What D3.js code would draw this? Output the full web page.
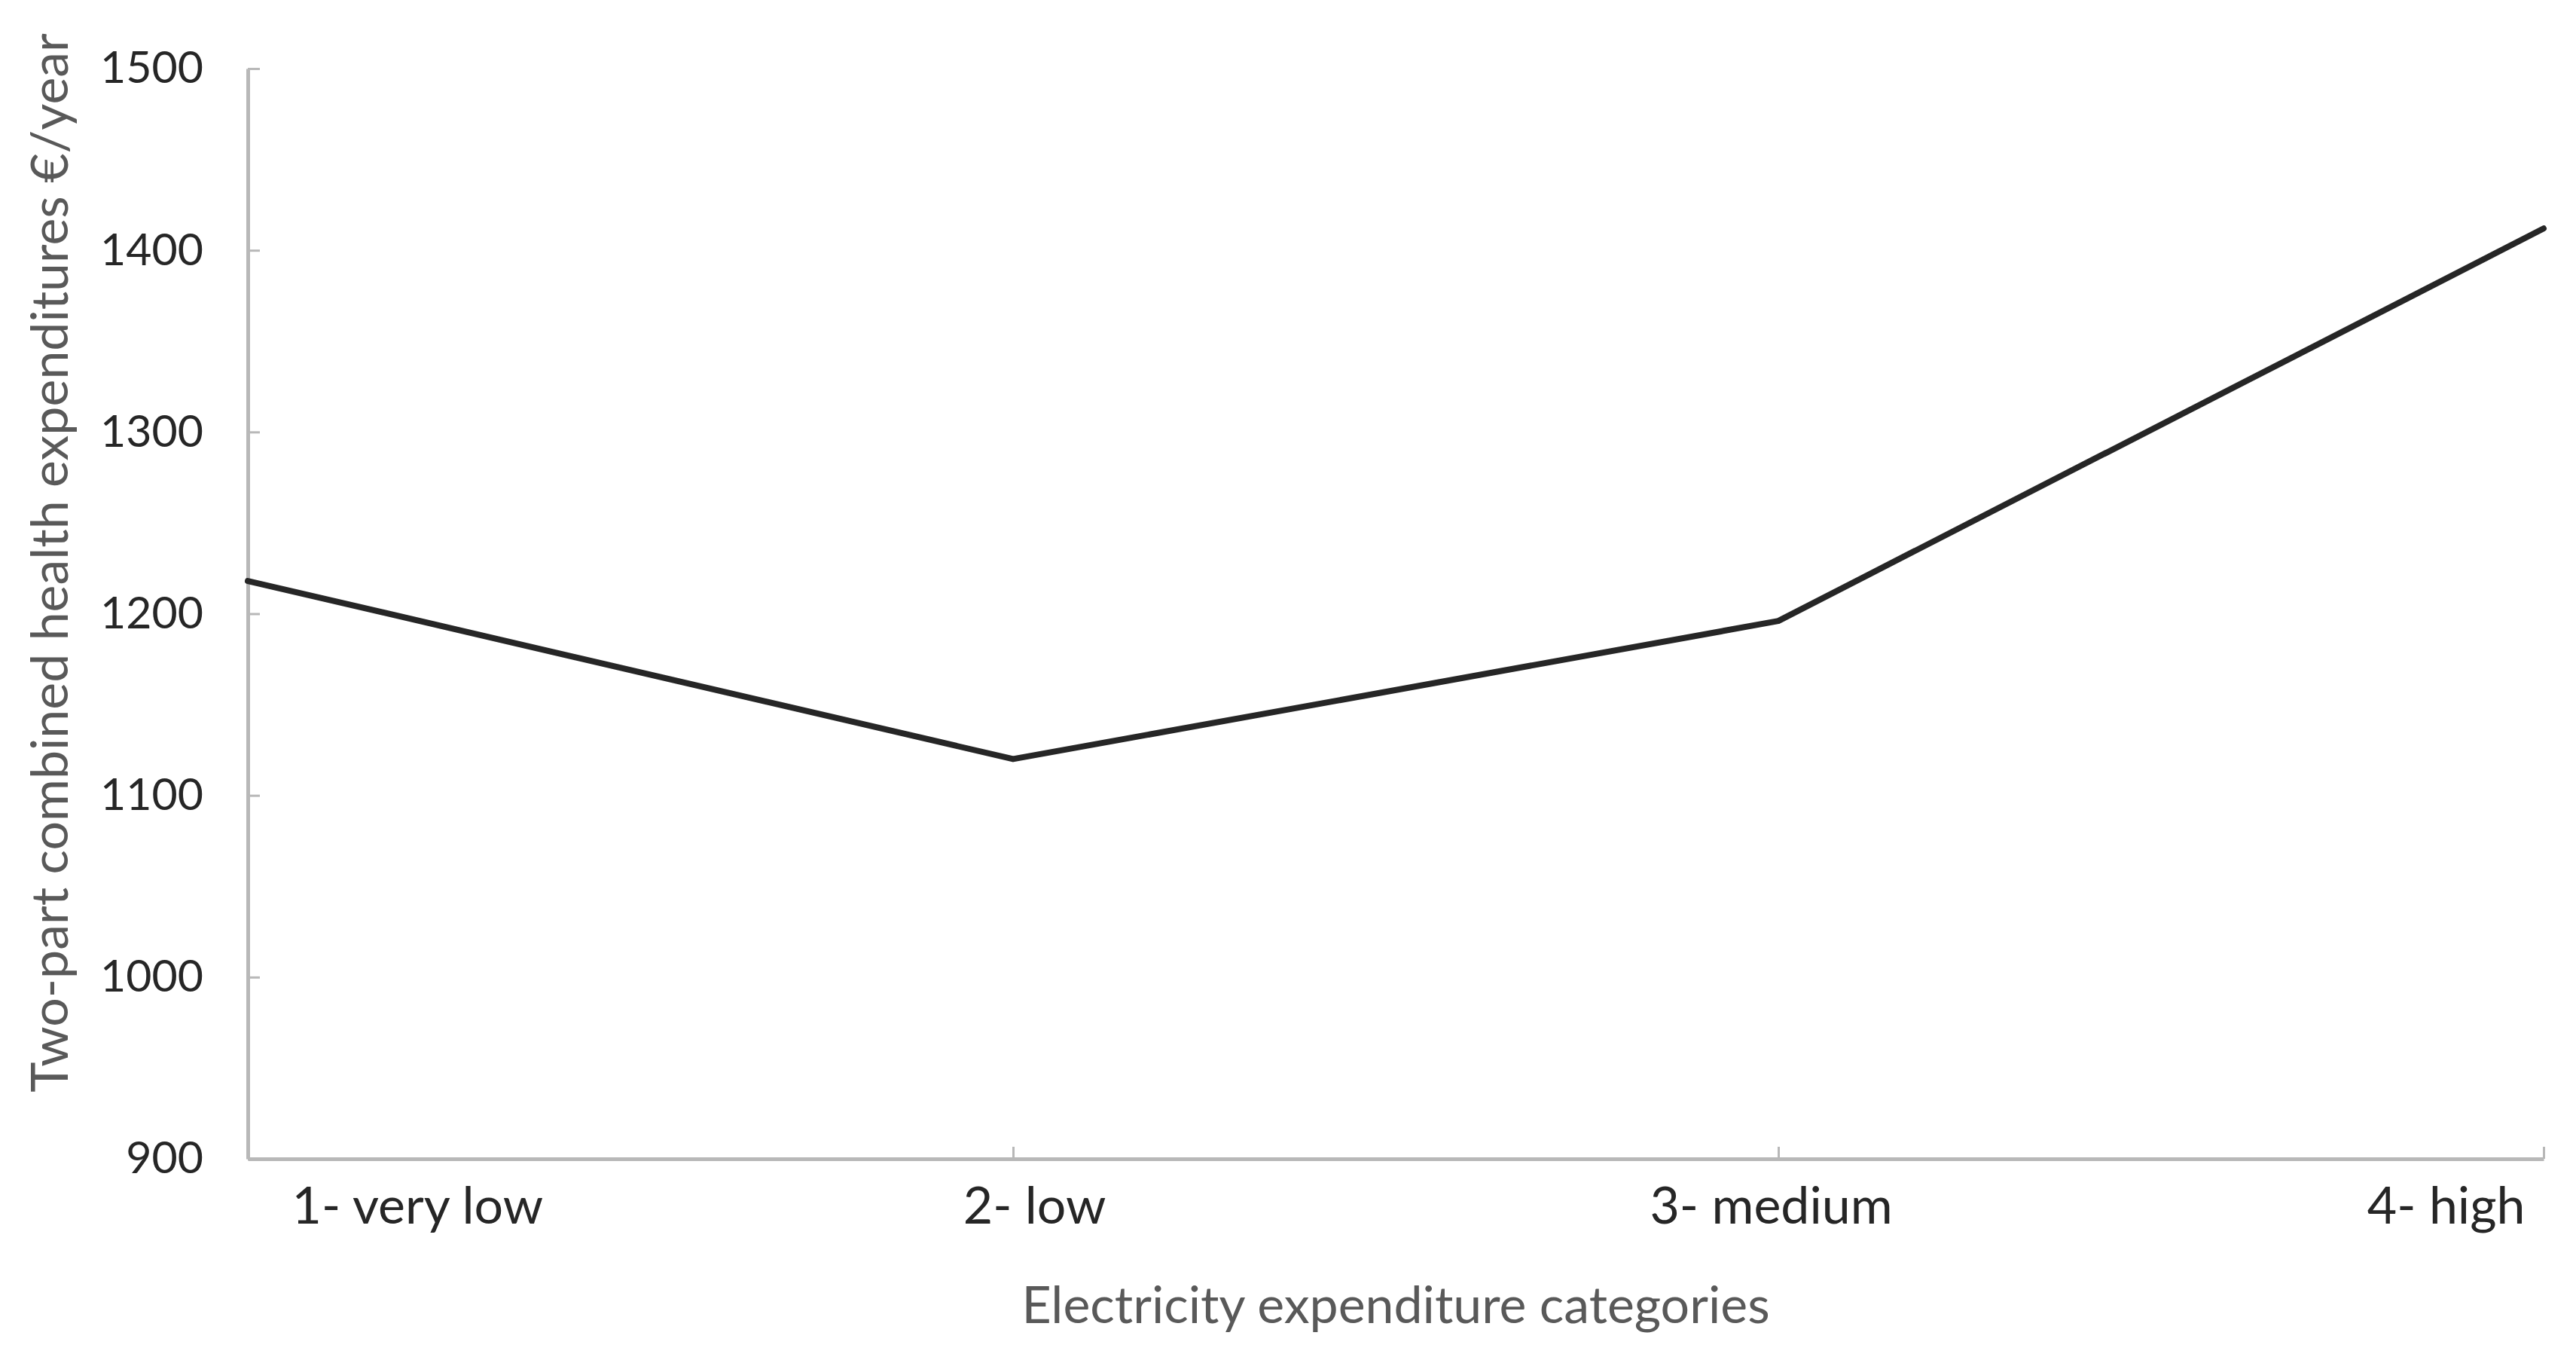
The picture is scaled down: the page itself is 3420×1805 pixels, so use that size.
<!DOCTYPE html>
<html>
<head>
<meta charset="utf-8">
<script src="https://cdn.jsdelivr.net/npm/d3@7"></script>
<style>
  html, body { margin: 0; padding: 0; background: #ffffff; }
  svg { display: block; }
  text { font-family: Lato, "Noto Sans", sans-serif; }
</style>
</head>
<body>
<svg id="chart" width="3420" height="1805"></svg>
<script>
// ---- data ----
const categories = ["1- very low", "2- low", "3- medium", "4- high"];
const values = [1218, 1120, 1196, 1412];
const yTicks = [900, 1000, 1100, 1200, 1300, 1400, 1500];
const yTitle = "Two-part combined health expenditures \u20AC/year";
const xTitle = "Electricity expenditure categories";

// ---- layout ----
const W = 3420, H = 1805;
const plot = { left: 329, right: 3377, top: 91, bottom: 1538 };

const svg = d3.select("#chart");
svg.append("rect").attr("width", W).attr("height", H).attr("fill", "#ffffff");

const x = d3.scalePoint().domain(categories).range([plot.left, plot.right]);
const y = d3.scaleLinear().domain([900, 1500]).range([plot.bottom, plot.top]);

const axisColor = "#b8b8b8";
const textColor = "#262626";

// Y axis
const gy = svg.append("g").attr("transform", `translate(${plot.left},0)`)
  .call(d3.axisLeft(y).tickValues(yTicks).tickSize(-16).tickSizeOuter(0).tickPadding(59).tickFormat(d3.format("d")));
gy.select(".domain").attr("stroke", axisColor).attr("stroke-width", 5);
gy.selectAll(".tick line").attr("stroke", axisColor).attr("stroke-width", 3);
gy.selectAll(".tick text").attr("fill", textColor).attr("font-size", 59);

// X axis
const gx = svg.append("g").attr("transform", `translate(0,${plot.bottom})`)
  .call(d3.axisBottom(x).tickSize(-16).tickSizeOuter(0).tickPadding(0));
gx.select(".domain").attr("stroke", axisColor).attr("stroke-width", 5);
gx.selectAll(".tick line").attr("stroke", axisColor).attr("stroke-width", 3);
const n = categories.length;
gx.selectAll(".tick text")
  .attr("fill", textColor)
  .attr("font-size", 68)
  .attr("y", 86)
  .attr("dy", null)
  .attr("text-anchor", (d, i) => i === 0 ? "start" : (i === n - 1 ? "end" : "middle"))
  .attr("dx", (d, i) => i === 0 ? 58 : (i === n - 1 ? -25 : (i === 1 ? 28 : -10)));

// line
const line = d3.line()
  .x((d, i) => x(categories[i]))
  .y(d => y(d));
svg.append("path")
  .datum(values)
  .attr("d", line)
  .attr("fill", "none")
  .attr("stroke", "#262626")
  .attr("stroke-width", 8)
  .attr("stroke-linejoin", "round")
  .attr("stroke-linecap", "round");

// axis titles
svg.append("text")
  .attr("transform", `translate(90,747) rotate(-90)`)
  .attr("text-anchor", "middle")
  .attr("fill", "#595959")
  .attr("font-size", 68)
  .text(yTitle);

svg.append("text")
  .attr("x", 1853)
  .attr("y", 1756)
  .attr("text-anchor", "middle")
  .attr("fill", "#595959")
  .attr("font-size", 68)
  .text(xTitle);
</script>
</body>
</html>
